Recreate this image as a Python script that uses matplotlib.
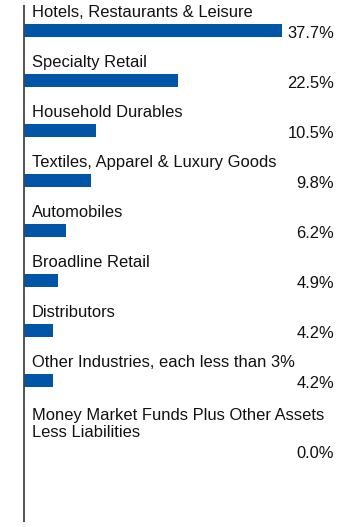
import numpy as np
import matplotlib.pyplot as plt

# Industry allocation data
categories = [
    "Hotels, Restaurants & Leisure",
    "Specialty Retail",
    "Household Durables",
    "Textiles, Apparel & Luxury Goods",
    "Automobiles",
    "Broadline Retail",
    "Distributors",
    "Other Industries, each less than 3%",
    "Money Market Funds Plus Other Assets\nLess Liabilities",
]
values = [37.7, 22.5, 10.5, 9.8, 6.2, 4.9, 4.2, 4.2, 0.0]
value_labels = ["37.7%", "22.5%", "10.5%", "9.8%", "6.2%", "4.9%", "4.2%", "4.2%", "0.0%"]

# Layout settings (pixel units in y)
W, H = 360, 527
x0 = 24            # axis line position in px
px_per_pct = 6.84  # bar scale
row_step = 50
first_center = 30.5
bar_h = 13
extra_line = 20

plt.rcParams['font.family'] = ['Liberation Sans', 'DejaVu Sans']

fig = plt.figure(figsize=(W / 100, H / 100), dpi=100)
ax = fig.add_axes([0, 0, 1, 1])
ax.set_xlim(-x0 / px_per_pct, (W - x0) / px_per_pct)
ax.set_ylim(H, 0)
ax.axis('off')

# bar centers, pushing rows down for multi-line labels
centers = []
offset = 0
for i, c in enumerate(categories):
    offset += extra_line * c.count("\n")
    centers.append(first_center + row_step * i + offset)
centers = np.array(centers)

ax.barh(centers, values, height=bar_h, color='#0055a6', edgecolor='none')

label_x = (31.5 - x0) / px_per_pct
value_x = (334 - x0) / px_per_pct
for c, cat, lab in zip(centers, categories, value_labels):
    ax.text(label_x, c - bar_h / 2 - 7, cat, fontsize=11.9, ha='left', va='baseline',
            color='#111111', linespacing=1.2)
    ax.text(value_x, c + bar_h / 2 + 0.5, lab, fontsize=11.9, ha='right', va='baseline',
            color='#111111')

ax.plot([0, 0], [5, 522], color='#444444', lw=1.3, solid_capstyle='butt')

plt.savefig('out.png', dpi=100)
